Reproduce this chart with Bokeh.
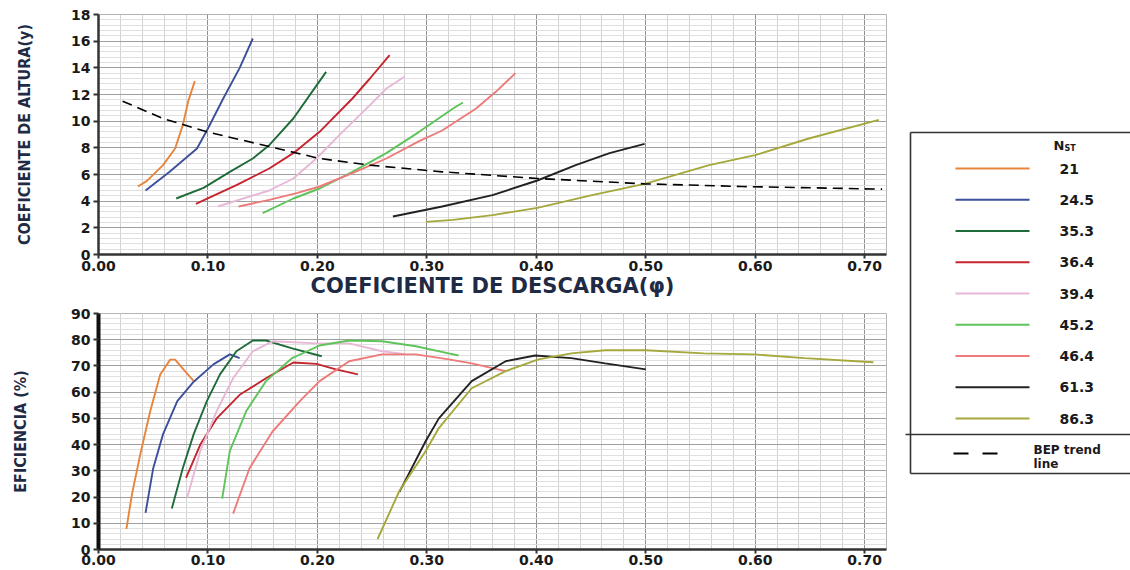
from bokeh.plotting import figure
from bokeh.layouts import row, column
from bokeh.models import Range1d, SingleIntervalTicker, NumeralTickFormatter
from bokeh.core.properties import value
from bokeh.embed import file_html
from bokeh.resources import INLINE

# ---------------- data ----------------
nst_labels = ["21", "24.5", "35.3", "36.4", "39.4", "45.2", "46.4", "61.3", "86.3"]
colors = ["#e8843c", "#3d4f9a", "#1f6b3a", "#c4252e", "#e6b8d6",
          "#5ec45a", "#ee7a7a", "#222222", "#a5a83a"]

# head coefficient (psi) vs discharge coefficient (phi)
phi_h_21 = [0.036, 0.044, 0.059, 0.070, 0.077, 0.082, 0.088]
psi_21 = [5.1, 5.5, 6.7, 7.95, 9.7, 11.5, 13.0]
phi_h_245 = [0.043, 0.065, 0.090, 0.100, 0.114, 0.129, 0.141]
psi_245 = [4.8, 6.2, 7.95, 9.45, 11.7, 14.0, 16.2]
phi_h_353 = [0.071, 0.096, 0.120, 0.141, 0.156, 0.178, 0.193, 0.208]
psi_353 = [4.2, 5.0, 6.2, 7.2, 8.2, 10.2, 11.95, 13.7]
phi_h_364 = [0.089, 0.126, 0.156, 0.178, 0.202, 0.232, 0.248, 0.266]
psi_364 = [3.8, 5.2, 6.45, 7.6, 9.2, 11.7, 13.2, 14.95]
phi_h_394 = [0.109, 0.156, 0.178, 0.199, 0.223, 0.248, 0.263, 0.280]
psi_394 = [3.6, 4.8, 5.7, 7.2, 9.2, 11.2, 12.45, 13.35]
phi_h_452 = [0.150, 0.178, 0.202, 0.232, 0.263, 0.293, 0.324, 0.333]
psi_452 = [3.1, 4.2, 4.95, 6.2, 7.6, 9.2, 10.95, 11.4]
phi_h_464 = [0.128, 0.156, 0.181, 0.202, 0.232, 0.263, 0.293, 0.314, 0.345, 0.363, 0.381]
psi_464 = [3.6, 4.1, 4.6, 5.1, 6.1, 7.2, 8.5, 9.3, 10.95, 12.2, 13.6]
phi_h_613 = [0.269, 0.314, 0.360, 0.401, 0.436, 0.467, 0.499]
psi_613 = [2.85, 3.6, 4.45, 5.55, 6.7, 7.6, 8.3]
phi_h_863 = [0.299, 0.324, 0.360, 0.401, 0.451, 0.499, 0.558, 0.600, 0.649, 0.713]
psi_863 = [2.45, 2.6, 2.95, 3.5, 4.45, 5.3, 6.7, 7.45, 8.7, 10.1]
bep_phi = [0.022, 0.059, 0.099, 0.156, 0.202, 0.248, 0.314, 0.401, 0.499, 0.588, 0.716]
bep_psi = [11.5, 10.2, 9.2, 8.1, 7.2, 6.7, 6.2, 5.7, 5.3, 5.1, 4.9]

# efficiency (%) vs discharge coefficient (phi)
phi_e_21 = [0.0255, 0.0306, 0.0382, 0.0473, 0.0564, 0.0655, 0.070, 0.079, 0.0867]
eff_21 = [7.9, 21.1, 36.3, 52.8, 66.7, 72.4, 72.4, 68, 64.4]
phi_e_245 = [0.043, 0.050, 0.059, 0.072, 0.087, 0.105, 0.120, 0.129]
eff_245 = [14, 31, 44, 56.6, 64, 70.6, 74.4, 73]
phi_e_353 = [0.067, 0.077, 0.087, 0.099, 0.111, 0.126, 0.141, 0.153, 0.177, 0.204]
eff_353 = [15.6, 31, 44, 56.6, 66.8, 75.6, 79.7, 79.7, 76.7, 73.7]
phi_e_364 = [0.080, 0.093, 0.108, 0.129, 0.153, 0.178, 0.199, 0.217, 0.237]
eff_364 = [27.3, 40, 50, 59, 65.3, 71.3, 70.8, 68.7, 66.8]
phi_e_394 = [0.081, 0.093, 0.108, 0.123, 0.141, 0.159, 0.199, 0.229, 0.259, 0.280]
eff_394 = [19.7, 37.6, 52.8, 65.3, 75.6, 79.4, 78.6, 78.6, 75.6, 74.5]
phi_e_452 = [0.113, 0.120, 0.135, 0.153, 0.177, 0.202, 0.229, 0.259, 0.290, 0.320, 0.329]
eff_452 = [19.4, 37.6, 52.8, 64.2, 73, 77.8, 79.7, 79.4, 77.5, 74.8, 74]
phi_e_464 = [0.123, 0.138, 0.159, 0.184, 0.202, 0.229, 0.259, 0.290, 0.320, 0.341, 0.372]
eff_464 = [13.7, 31, 45, 56.6, 64.2, 71.8, 74.4, 74.4, 72.5, 71, 68]
phi_e_613 = [0.275, 0.299, 0.311, 0.341, 0.372, 0.399, 0.432, 0.463, 0.500]
eff_613 = [22, 41.4, 50, 64.2, 71.8, 74, 73, 71, 68.7]
phi_e_863 = [0.255, 0.275, 0.299, 0.311, 0.341, 0.372, 0.402, 0.432, 0.463, 0.500,
             0.553, 0.599, 0.645, 0.708]
eff_863 = [4, 22.4, 37.6, 46.3, 61.5, 68, 72.5, 74.8, 76, 76, 74.8, 74.4, 73, 71.4]

head_series = [(phi_h_21, psi_21), (phi_h_245, psi_245), (phi_h_353, psi_353),
               (phi_h_364, psi_364), (phi_h_394, psi_394), (phi_h_452, psi_452),
               (phi_h_464, psi_464), (phi_h_613, psi_613), (phi_h_863, psi_863)]
eff_series = [(phi_e_21, eff_21), (phi_e_245, eff_245), (phi_e_353, eff_353),
              (phi_e_364, eff_364), (phi_e_394, eff_394), (phi_e_452, eff_452),
              (phi_e_464, eff_464), (phi_e_613, eff_613), (phi_e_863, eff_863)]

x_label = "COEFICIENTE DE DESCARGA(\u03c6)"
y_label_top = "COEFICIENTE DE ALTURA(y)"
y_label_bottom = "EFICIENCIA (%)"
bep_label = ["BEP trend", "line"]

TICK_FONT = "DejaVu Sans"
TITLE_COLOR = "#1f2a44"
NARROW = "'DejaVu Sans Condensed', sans-serif"


def style(p, ymax, yint, left_axis_width):
    p.x_range = Range1d(0, 0.72)
    p.y_range = Range1d(0, ymax)
    p.xaxis.ticker = SingleIntervalTicker(interval=0.1, num_minor_ticks=5)
    p.yaxis.ticker = SingleIntervalTicker(interval=yint, num_minor_ticks=5)
    p.xaxis.formatter = NumeralTickFormatter(format="0.00")
    p.xgrid.grid_line_color = "#8f8f8f"
    p.xgrid.minor_grid_line_color = "#d2d2d2"
    p.ygrid.grid_line_color = "#a0a0a0"
    p.ygrid.minor_grid_line_color = "#e0e0e0"
    p.outline_line_color = "#b5b5b5"
    for ax in (p.xaxis[0], p.yaxis[0]):
        ax.axis_line_color = "#333333"
        ax.major_tick_line_color = "#333333"
        ax.major_tick_line_width = 2
        ax.major_tick_out = 5
        ax.major_tick_in = 0
        ax.minor_tick_line_color = None
        ax.major_label_text_font = TICK_FONT
        ax.major_label_text_font_style = "bold"
        ax.major_label_text_font_size = "14px"
        ax.major_label_text_color = "#1a1a1a"
        ax.major_label_standoff = 3
    p.xaxis.axis_line_width = 2.5
    p.yaxis.axis_line_width = left_axis_width


# ---------------- top chart ----------------
p1 = figure(width=898, height=305, output_backend="svg", toolbar_location=None,
            min_border_left=95, min_border_right=12, min_border_top=14, min_border_bottom=51)
style(p1, 18, 2, 2.5)
for (xs, ys), c in zip(head_series, colors):
    p1.line(xs, ys, line_color=c, line_width=1.9)
p1.line(bep_phi, bep_psi, line_color="black", line_width=1.6, line_dash="10 6")
p1.xaxis.axis_label = x_label
p1.xaxis.axis_label_text_font = TICK_FONT
p1.xaxis.axis_label_text_font_style = "bold"
p1.xaxis.axis_label_text_font_size = "21px"
p1.xaxis.axis_label_text_color = TITLE_COLOR
p1.xaxis.axis_label_standoff = 0
p1.xaxis.major_label_standoff = 2
p1.xaxis.major_tick_out = 4
p1.yaxis.axis_label = y_label_top
p1.yaxis.axis_label_text_font = NARROW
p1.yaxis.axis_label_text_font_style = "bold"
p1.yaxis.axis_label_text_font_size = "16px"
p1.yaxis.axis_label_text_color = TITLE_COLOR
p1.yaxis.axis_label_standoff = 34

# ---------------- bottom chart ----------------
p2 = figure(width=898, height=264, output_backend="svg", toolbar_location=None,
            min_border_left=98, min_border_right=8, min_border_top=8, min_border_bottom=20)
style(p2, 90, 10, 4)
p2.yaxis.axis_line_color = "#111111"
for (xs, ys), c in zip(eff_series, colors):
    p2.line(xs, ys, line_color=c, line_width=1.9)
p2.yaxis.axis_label = y_label_bottom
p2.yaxis.axis_label_text_font = NARROW
p2.yaxis.axis_label_text_font_style = "bold"
p2.yaxis.axis_label_text_font_size = "16px"
p2.yaxis.axis_label_text_color = TITLE_COLOR
p2.yaxis.axis_label_standoff = 38
p2.xaxis.major_label_standoff = 1
p2.xaxis.major_tick_out = 4

# ---------------- legend panel ----------------
leg = figure(width=232, height=569, output_backend="svg", toolbar_location=None,
             x_range=Range1d(898, 1130), y_range=Range1d(569, 0),
             min_border=0)
leg.axis.visible = False
leg.grid.visible = False
leg.outline_line_color = None
# box
leg.segment(x0=[910, 910, 910, 905], y0=[132, 132, 473, 434],
            x1=[910, 1140, 1140, 1140], y1=[473, 132, 473, 434],
            line_color="#333333", line_width=1.6)
leg.text(x=[1053], y=[145], text=["N"], text_font=value(TICK_FONT),
         text_font_style="bold", text_font_size="13px", text_baseline="middle",
         text_color="#1a1a1a")
leg.text(x=[1064], y=[148], text=["ST"], text_font=value(TICK_FONT),
         text_font_style="bold", text_font_size="8px", text_baseline="middle",
         text_color="#1a1a1a")
ly = [168 + 31.25 * i for i in range(len(nst_labels))]
leg.segment(x0=[955] * len(ly), y0=ly, x1=[1029] * len(ly), y1=ly,
            line_color=colors, line_width=1.8)
leg.text(x=[1059] * len(ly), y=ly, text=nst_labels, text_font=value(TICK_FONT),
         text_font_style="bold", text_font_size="14px", text_baseline="middle",
         text_color="#1a1a1a")
leg.segment(x0=[953], y0=[453], x1=[1001], y1=[453], line_color="black",
            line_width=1.8, line_dash="15 14")
leg.text(x=[1033, 1033], y=[449, 463], text=bep_label, text_font=value(TICK_FONT),
         text_font_style="bold", text_font_size="12px", text_baseline="middle",
         text_color="#1a1a1a")

layout = row(column(p1, p2), leg)
open("out.html", "w").write(file_html(layout, INLINE))
